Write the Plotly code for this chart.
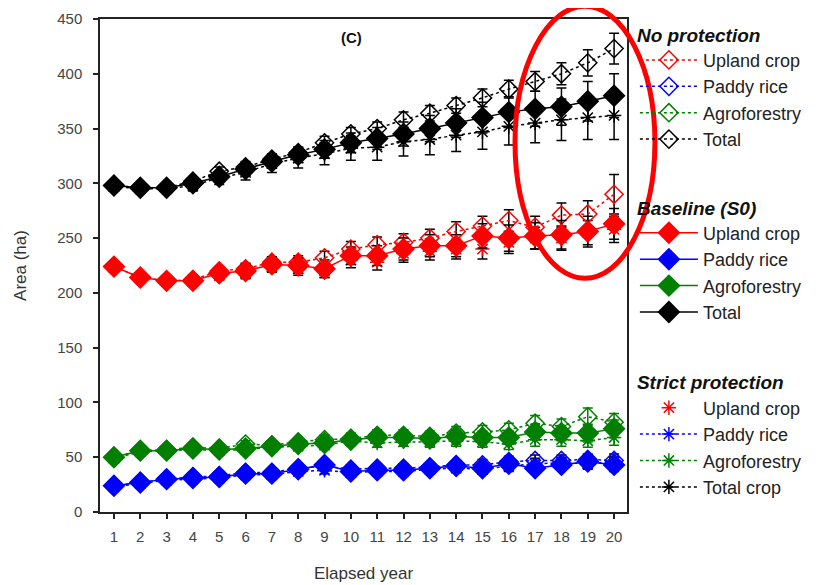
import plotly.graph_objects as go

years = list(range(1, 21))

# No protection
np_upland = [224, 214, 211, 212, 220, 222, 228, 228, 232, 240, 244, 246, 250, 256, 261, 266, 260, 271, 272, 290]
np_paddy = [24, 27, 30, 32, 33, 36, 36, 40, 42, 39, 40, 40, 41, 43, 43, 46, 47, 47, 48, 47]
np_agro = [50, 56, 57, 59, 58, 62, 61, 64, 66, 67, 70, 70, 69, 72, 73, 75, 81, 78, 87, 82]
np_total = [298, 296, 296, 302, 311, 315, 322, 328, 337, 345, 350, 358, 364, 371, 378, 386, 393, 400, 410, 423]

# Baseline (S0)
bl_upland = [224, 214, 211, 211, 218, 220, 226, 225, 222, 234, 234, 240, 243, 243, 252, 250, 252, 253, 256, 263]
bl_paddy = [24, 27, 30, 31, 32, 35, 35, 39, 43, 37, 38, 38, 40, 42, 40, 44, 40, 43, 46, 43]
bl_agro = [50, 56, 56, 58, 57, 58, 60, 62, 63, 66, 68, 68, 67, 69, 68, 68, 73, 72, 72, 76]
bl_total = [298, 296, 296, 300, 306, 313, 320, 326, 331, 337, 341, 345, 350, 355, 360, 365, 368, 370, 375, 380]

# Strict protection
sp_upland = [223, 213, 210, 210, 216, 218, 224, 222, 220, 230, 228, 236, 238, 240, 240, 246, 250, 250, 255, 258]
sp_paddy = [23, 26, 29, 30, 31, 34, 34, 37, 38, 36, 37, 37, 39, 40, 39, 42, 44, 45, 44, 46]
sp_agro = [49, 55, 56, 57, 56, 57, 59, 60, 61, 65, 63, 64, 64, 65, 64, 62, 66, 66, 65, 68]
sp_total = [297, 295, 295, 298, 305, 310, 318, 323, 327, 332, 333, 338, 340, 344, 347, 352, 355, 358, 360, 362]

# Error (+/-)
err_total_np = [3, 3, 3, 4, 4, 5, 5, 5, 6, 6, 6, 7, 7, 7, 8, 8, 9, 10, 12, 14]
err_total_bl = [4, 4, 4, 5, 5, 6, 6, 7, 8, 9, 10, 11, 12, 13, 14, 14, 16, 17, 18, 20]
err_total_sp = [4, 4, 4, 5, 6, 7, 8, 9, 10, 11, 12, 13, 14, 15, 16, 17, 18, 19, 20, 22]
err_upland_np = [3, 3, 3, 4, 4, 5, 5, 6, 6, 7, 7, 8, 8, 9, 9, 10, 10, 11, 12, 18]
err_upland_bl = [4, 4, 4, 5, 5, 6, 7, 7, 8, 8, 9, 10, 10, 10, 11, 12, 12, 13, 14, 14]
err_upland_sp = [3, 3, 3, 4, 4, 5, 5, 6, 6, 7, 7, 8, 8, 9, 9, 10, 10, 11, 11, 12]
err_agro_np = [2, 2, 2, 3, 3, 3, 4, 4, 4, 5, 5, 5, 5, 6, 6, 6, 7, 7, 8, 8]
err_agro_bl = [3, 3, 3, 3, 3, 4, 4, 4, 5, 5, 5, 5, 6, 6, 6, 6, 7, 7, 8, 8]
err_agro_sp = [2, 2, 2, 2, 3, 3, 3, 3, 4, 4, 4, 4, 5, 5, 5, 5, 6, 6, 6, 7]
err_paddy_np = [2, 2, 2, 2, 3, 3, 3, 3, 3, 4, 4, 4, 4, 4, 5, 5, 5, 5, 5, 6]
err_paddy_bl = [2, 2, 2, 2, 3, 3, 3, 4, 4, 4, 4, 4, 4, 5, 5, 5, 5, 5, 6, 6]
err_paddy_sp = [2, 2, 2, 2, 2, 3, 3, 3, 3, 3, 4, 4, 4, 4, 4, 5, 5, 5, 5, 5]

RED, BLUE, GREEN, BLACK = "#ff0000", "#0000ff", "#007f00", "#000000"
FONT = "Arial, Liberation Sans, sans-serif"

fig = go.Figure()

def add(name, y, err, color, legend, symbol, dash, size, mode="lines+markers"):
    fig.add_trace(go.Scatter(
        x=years, y=y, name=name, mode=mode,
        line=dict(color=color, width=1.5, dash=dash),
        marker=dict(symbol=symbol, size=size, color=color, line=dict(color=color, width=1.5)),
        error_y=dict(type="data", array=err, color=BLACK if color != GREEN else GREEN, thickness=1.5, width=5),
        legend=legend,
    ))

# Strict protection
add("Upland crop", sp_upland, err_upland_sp, RED, "legend3", "asterisk-open", "dot", 12, mode="markers")
add("Paddy rice", sp_paddy, err_paddy_sp, BLUE, "legend3", "asterisk-open", "dot", 12)
add("Agroforestry", sp_agro, err_agro_sp, GREEN, "legend3", "asterisk-open", "dot", 12)
add("Total crop", sp_total, err_total_sp, BLACK, "legend3", "asterisk-open", "dot", 12)
# No protection
add("Upland crop", np_upland, err_upland_np, RED, "legend", "diamond-open", "dot", 14)
add("Paddy rice", np_paddy, err_paddy_np, BLUE, "legend", "diamond-open", "dot", 14)
add("Agroforestry", np_agro, err_agro_np, GREEN, "legend", "diamond-open", "dot", 14)
add("Total", np_total, err_total_np, BLACK, "legend", "diamond-open", "dot", 14)
# Baseline
add("Upland crop", bl_upland, err_upland_bl, RED, "legend2", "diamond", "solid", 16)
add("Paddy rice", bl_paddy, err_paddy_bl, BLUE, "legend2", "diamond", "solid", 16)
add("Agroforestry", bl_agro, err_agro_bl, GREEN, "legend2", "diamond", "solid", 16)
add("Total", bl_total, err_total_bl, BLACK, "legend2", "diamond", "solid", 16)

TITLE_FONT = dict(family=FONT, size=19, color="#111", weight="bold", style="italic")

def legend_at(y, title):
    return dict(
        x=1.015, xanchor="left", y=y, yanchor="top",
        traceorder="normal",
        title=dict(text=title, font=TITLE_FONT),
        font=dict(family=FONT, size=18, color="#222"),
        bgcolor="rgba(0,0,0,0)", itemwidth=58,
    )

fig.update_layout(
    width=819, height=577,
    margin=dict(l=92, r=200, t=10, b=73),
    paper_bgcolor="white", plot_bgcolor="white",
    font=dict(family=FONT, size=15, color="#444"),
    showlegend=True,
    legend=legend_at(1.002, "No protection"),
    legend2=legend_at(0.652, "Baseline (S0)"),
    legend3=legend_at(0.298, "Strict protection"),
    xaxis=dict(
        range=[0.47, 20.49], tickmode="array", tickvals=years,
        ticks="outside", ticklen=5, tickwidth=1.5, tickcolor="#222",
        showline=True, linecolor="#222", linewidth=1.5, mirror=True,
        showgrid=False, zeroline=False, automargin=False,
        tickfont=dict(family=FONT, size=15, color="#444"),
        ticklabelstandoff=5,
        title=dict(text="Elapsed year", font=dict(family=FONT, size=17, color="#333"), standoff=23),
    ),
    yaxis=dict(
        range=[0, 450], tickmode="array", tickvals=list(range(0, 451, 50)),
        ticks="outside", ticklen=5, tickwidth=1.5, tickcolor="#222",
        showline=True, linecolor="#222", linewidth=1.5, mirror=True,
        showgrid=False, zeroline=False, automargin=False,
        tickfont=dict(family=FONT, size=15, color="#444"),
        ticklabelstandoff=8,
        title=dict(text="Area (ha)", font=dict(family=FONT, size=17, color="#333"), standoff=26),
    ),
    annotations=[dict(
        text="<b>(C)</b>", x=0.478, y=0.9615, xref="paper", yref="paper",
        xanchor="center", yanchor="middle",
        showarrow=False, font=dict(family=FONT, size=15, color="#111"),
    )],
    shapes=[dict(
        type="circle", xref="paper", yref="paper",
        x0=0.7875, x1=1.053, y0=0.474, y1=1.026,
        line=dict(color="#ff0000", width=5), layer="above",
    )],
)

fig.write_html("out.html")
